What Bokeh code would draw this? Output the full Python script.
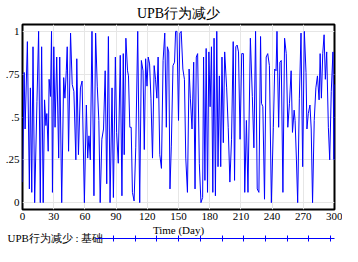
import numpy as np
from bokeh.plotting import figure
from bokeh.models import FixedTicker, LinearAxis, Range1d
from bokeh.embed import file_html
from bokeh.resources import INLINE

title_text = "UPB行为减少"
legend_text = "UPB行为减少 : 基础"
x_label = "Time (Day)"
x_ticks = [0, 30, 60, 90, 120, 150, 180, 210, 240, 270, 300]
y_ticks = [0, 0.25, 0.5, 0.75, 1]
y_tick_labels = ["0", ".25", ".5", ".75", "1"]

day = [0, 1.6, 2.5, 4.7, 6.6, 7.6, 8.9, 10.1, 11.7, 13.9, 15.5, 17.1, 18.4, 19.9, 21.2, 22.5,
       23.4, 24.7, 25.6, 26.9, 27.9, 28.8, 30.1, 31.3, 32.9, 34.8, 35.8, 37.7, 39.6, 40.8, 42.1,
       43.0, 44.3, 46.2, 47.8, 49.4, 51.3, 52.2, 53.8, 55.7, 57.3, 59.5, 61.4, 62.7, 63.9, 65.2,
       66.8, 68.7, 70.3, 71.9, 73.4, 74.7, 76.3, 77.9, 79.5, 81.0, 82.6, 84.2,
       86.1, 87.4, 89.3, 90.5, 92.1, 94.0, 95.6, 96.9, 97.8, 99.4, 101.0, 101.9, 103.2, 104.5,
       105.7, 107.3, 108.9, 110.8, 112.7, 114.3, 115.9, 117.1, 118.4, 119.7, 120.9, 122.2, 123.5,
       125.0, 126.6, 127.9, 129.2, 130.4,
       132.0, 133.6, 135.2, 136.8, 138.3, 139.3, 140.6, 141.8, 143.1, 144.7, 146.2, 147.2, 148.5,
       150.0, 151.3, 152.6, 154.2, 155.7, 157.0, 158.6, 160.2, 161.4, 163.0, 164.6, 165.9, 167.1,
       168.4, 170.0, 171.6, 173.2,
       174.1, 175.4, 176.6, 177.9, 179.2, 180.4, 181.7, 183.0, 184.2, 185.5, 186.8, 188.0, 189.3,
       190.6, 191.8, 193.1, 194.4, 196.3, 197.8, 199.4, 201.0, 202.6, 203.9, 205.1, 206.4, 207.7,
       209.2, 210.8, 212.4, 213.7, 215.3, 216.8,
       219.1, 221.0, 222.5, 224.1, 225.7, 227.3, 228.9, 229.8, 231.1, 232.7, 234.3, 235.8, 237.4,
       239.3, 241.2, 242.5, 243.8, 244.7, 246.3, 247.5, 248.8, 250.4, 252.0, 253.6, 255.1, 256.7,
       258.3, 259.6, 261.2,
       262.1, 263.4, 264.6, 266.2, 267.8, 269.4, 271.0, 272.6, 273.5, 274.8, 276.4, 277.6, 278.9,
       280.5, 282.1, 283.6, 285.2, 286.2, 287.4, 288.7, 290.0, 291.2, 292.5, 294.1, 295.4, 296.9,
       298.5, 299.5, 300.0]

upb = [0.12, 0.76, 0.43, 0.94, 0.08, 0.67, 0.06, 0.91, 0.0, 0.59, 1.0, 0.0, 0.91, 0.0, 0.6, 0.45,
       0.52, 0.3, 0.72, 0.62, 1.0, 0.06, 0.91, 0.44, 0.85, 0.26, 0.85, 0.0, 0.73, 0.61, 0.77,
       0.91, 0.3, 0.99, 0.69, 0.65, 0.25, 0.84, 0.28, 0.67, 0.71, 0.0, 0.57, 0.26, 0.39, 0.25,
       1.0, 0.04, 0.99, 0.68, 0.48, 0.0, 0.37, 0.43, 0.77, 0.11, 0.97, 0.0,
       0.67, 0.03, 0.85, 0.41, 0.23, 0.86, 0.04, 0.87, 0.28, 0.96, 0.77, 0.74, 0.44, 0.44,
       0.06, 0.01, 0.32, 1.0, 0.0, 0.83, 0.77, 0.31, 0.84, 0.68, 0.85, 0.81, 0.61,
       0.26, 0.8, 0.72, 0.61, 0.85,
       0.28, 0.2, 0.83, 0.99, 0.44, 0.91, 0.88, 0.08, 0.33, 0.8, 0.82, 1.0, 1.0,
       0.48, 0.99, 1.0, 0.78, 0.72, 0.26, 0.06, 0.78, 0.61, 0.43, 0.82, 0.08, 0.85,
       0.87, 0.23, 0.0, 0.03,
       0.85, 0.13, 0.9, 0.06, 0.88, 0.56, 0.91, 0.06, 0.96, 0.04, 1.0, 0.21, 0.74,
       0.21, 0.85, 0.35, 0.88, 0.67, 0.44, 0.12, 0.37, 0.94, 0.13, 0.91, 0.92, 0.88,
       0.37, 0.87, 0.87, 0.06, 0.48, 0.06,
       0.96, 0.62, 0.32, 1.0, 0.08, 0.06, 0.97, 0.58, 0.56, 0.02, 0.85, 0.87, 0.8,
       0.0, 0.44, 0.78, 0.77, 1.0, 0.44, 0.82, 0.83, 0.06, 0.96, 0.87, 0.44, 0.58,
       0.77, 0.41, 0.54,
       0.48, 0.25, 0.0, 0.61, 0.99, 0.21, 1.0, 0.76, 0.43, 0.52, 0.57, 0.43, 0.0,
       0.48, 0.67, 0.74, 0.6, 0.87, 0.61, 0.87, 0.98, 0.72, 0.88, 0.44, 0.25, 0.65,
       0.88, 0.25, 0.69]

assert len(day) == len(upb), (len(day), len(upb))

SERIF = "Liberation Serif"
BLUE = "#0000ff"

p = figure(width=342, height=246, x_range=(0, 300), y_range=(-0.04, 1.04),
           output_backend="svg", toolbar_location=None,
           min_border_left=22, min_border_right=8, min_border_top=24, min_border_bottom=0)

p.title.text = title_text
p.title.align = "center"
p.title.text_font = SERIF
p.title.text_font_size = "14px"
p.title.text_font_style = "normal"
p.title.text_color = "black"
p.title.standoff = 7
p.title.offset = -9

p.line(day, upb, line_color=BLUE, line_width=1)

p.xaxis.ticker = FixedTicker(ticks=x_ticks)
p.yaxis.ticker = FixedTicker(ticks=y_ticks)
p.yaxis.major_label_overrides = {t: l for t, l in zip(y_ticks, y_tick_labels)}
p.xaxis.axis_label = x_label
for ax in (p.xaxis, p.yaxis):
    ax.axis_line_color = None
    ax.major_tick_line_color = None
    ax.minor_tick_line_color = None
    ax.major_tick_out = 0
    ax.major_tick_in = 0
    ax.minor_tick_out = 0
    ax.minor_tick_in = 0
    ax.major_label_text_font = SERIF
    ax.major_label_text_font_size = "11px"
    ax.major_label_text_color = "black"
    ax.major_label_standoff = 3
p.xaxis.axis_label_text_font = SERIF
p.xaxis.axis_label_text_font_size = "11px"
p.xaxis.axis_label_text_font_style = "normal"
p.xaxis.axis_label_text_color = "black"
p.xaxis.axis_label_standoff = 1

p.grid.grid_line_color = "#e6e6e6"
p.grid.grid_line_width = 1
p.outline_line_color = "black"
p.outline_line_width = 2
p.outline_line_alpha = 1

# legend row below the x axis, laid out in pixel units of the frame width
p.extra_x_ranges = {"leg": Range1d(0, 312)}
leg_ticks = list(np.linspace(91, 308, 11))
ax_leg = LinearAxis(x_range_name="leg", bounds=(73, 312),
                    ticker=FixedTicker(ticks=leg_ticks),
                    axis_line_color=BLUE, axis_line_width=1,
                    major_tick_line_color=BLUE, major_tick_line_width=1,
                    major_tick_in=3, major_tick_out=3,
                    minor_tick_line_color=None, minor_tick_in=0, minor_tick_out=0,
                    major_label_standoff=0, major_label_text_font_size="0px",
                    major_label_overrides={t: "" for t in leg_ticks})
p.add_layout(ax_leg, "below")

ax_txt = LinearAxis(x_range_name="leg", ticker=FixedTicker(ticks=[19]),
                    axis_line_color=None, major_tick_line_color=None,
                    major_tick_in=0, major_tick_out=0,
                    minor_tick_line_color=None, minor_tick_in=0, minor_tick_out=0,
                    major_label_standoff=-10, major_label_overrides={19: legend_text},
                    major_label_text_font=SERIF, major_label_text_font_size="11px",
                    major_label_text_color="black")
p.add_layout(ax_txt, "below")

open("out.html", "w").write(file_html(p, INLINE))
